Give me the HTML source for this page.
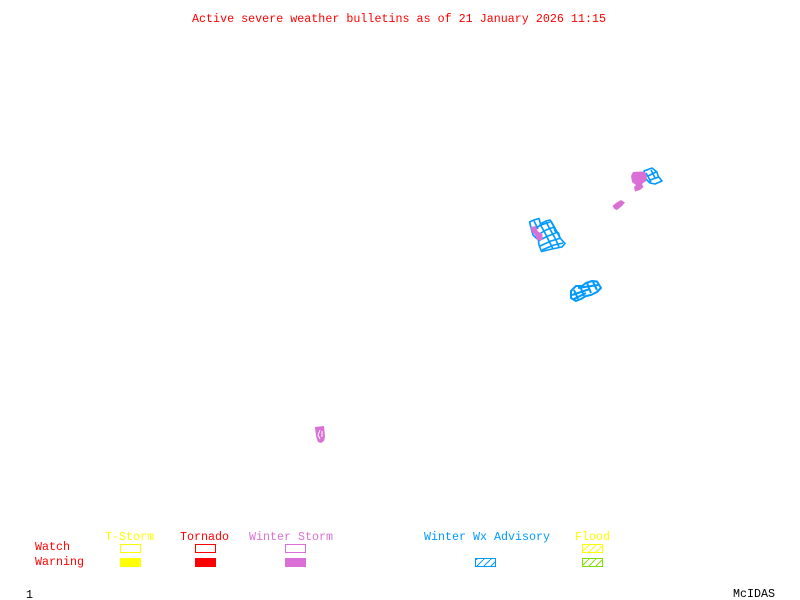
<!DOCTYPE html>
<html>
<head>
<meta charset="utf-8">
<style>
html,body{margin:0;padding:0;background:#fff;width:800px;height:600px;overflow:hidden}
svg{display:block}
text{font-family:"Liberation Mono",monospace;font-size:11.67px}
</style>
</head>
<body>
<svg width="800" height="600" viewBox="0 0 800 600" xmlns="http://www.w3.org/2000/svg">
<defs>
<pattern id="hb" width="7" height="7" patternUnits="userSpaceOnUse"><path d="M0 7L7 0" stroke="#0099ff" stroke-width="1"/></pattern>
<pattern id="hy" width="7" height="7" patternUnits="userSpaceOnUse"><path d="M0 7L7 0" stroke="#ffff00" stroke-width="1"/></pattern>
<pattern id="hg" width="7" height="7" patternUnits="userSpaceOnUse"><path d="M0 7L7 0" stroke="#7fdf00" stroke-width="1"/></pattern>
</defs>
<rect width="800" height="600" fill="#fff"/>

<text x="192" y="22" fill="#ff0000" textLength="414" lengthAdjust="spacing">Active severe weather bulletins as of 21 January 2026 11:15</text>

<!-- Region A -->
<g fill="none" stroke="#0099ff" stroke-width="1.6" stroke-linejoin="round">
<path d="M529.5 222L534 220L539 218.500L540.500 224L546 221L550 220L553.500 226L555 231L558.500 233L560 238L565 243.500L562 247L552 249L541.500 251.500L539 245L538.500 240L533 235Z"/>
<path d="M534 221L538 229M540 224L545 233L549 241L553 249M546 222L551 231L556 240L559 247M551 221L556 230L560 238"/>
<path d="M532 230L541 225L550 222M536 236L546 230L554 227M538 241L548 236L558 232M540 246L551 241L561 238M542 250L554 245L563 243"/>
</g>
<path d="M530.500 227L536 226L537.500 231L542.500 234.500L542.500 240L537.500 240.500L535 235L532 232Z" fill="#da70d6"/>

<!-- Region B top right -->
<g fill="none" stroke="#0099ff" stroke-width="1.6" stroke-linejoin="round">
<path d="M644 171L652 168L657 172L658 176L662 181L655 184L650 183L646 179Z"/>
<path d="M648 176L656 172M650 180L659 177M651 170L655 178M646 173L651 182"/>
</g>
<path d="M633 172L642 171.500L645 172L647 176L646 181L642 184L643.500 187L640 190L635 191.500L634 187L636 185L632 182L631 176Z" fill="#da70d6"/>
<path d="M612.500 206L616 203L621 200L625 202.500L622 206L617 210L614.500 209Z" fill="#da70d6"/>

<!-- Region C -->
<g fill="none" stroke="#0099ff" stroke-width="2" stroke-linejoin="round">
<path d="M571 291L576 286L582 286L586 283L592 281L597 281.500L601 288L597 292L591 295L586 296L581 299L576 301L571 298Z"/>
<path d="M574 290L578 299M580 286L584 296M587 283L591 293M593 282L597 290M572 295L590 289M578 288L598 285M574 299L586 293"/>
</g>

<!-- Region D -->
<path d="M315 427L324 426L325 437L324 441L321 443L318 442L316 436Z" fill="#da70d6"/>
<path d="M320 430L318 435L320 439M322 431L322 437" fill="none" stroke="#fff" stroke-width="1"/>

<!-- Legend -->
<text x="105" y="540" fill="#ffff00" textLength="49">T-Storm</text>
<text x="180" y="540" fill="#ff0000" textLength="49">Tornado</text>
<text x="249" y="540" fill="#da70d6" textLength="84">Winter Storm</text>
<text x="424" y="540" fill="#0099ff" textLength="126">Winter Wx Advisory</text>
<text x="575" y="540" fill="#ffff00" textLength="35">Flood</text>
<text x="35" y="550" fill="#ff0000" textLength="35">Watch</text>
<text x="35" y="565" fill="#ff0000" textLength="49">Warning</text>

<g shape-rendering="crispEdges" stroke-width="1">
<rect x="120.500" y="544.500" width="20" height="8" fill="none" stroke="#ffff00"/>
<rect x="120" y="558" width="21" height="9" fill="#ffff00"/>
<rect x="195.500" y="544.500" width="20" height="8" fill="none" stroke="#ff0000"/>
<rect x="195" y="558" width="21" height="9" fill="#ff0000"/>
<rect x="285.500" y="544.500" width="20" height="8" fill="none" stroke="#da70d6"/>
<rect x="285" y="558" width="21" height="9" fill="#da70d6"/>
<rect x="475.500" y="558.500" width="20" height="8" fill="url(#hb)" stroke="#0099ff"/>
<rect x="582.500" y="544.500" width="20" height="8" fill="url(#hy)" stroke="#ffff00"/>
<rect x="582.500" y="558.500" width="20" height="8" fill="url(#hg)" stroke="#7fdf00"/>
</g>

<text x="26" y="598" fill="#000">1</text>
<text x="733" y="597" fill="#000" textLength="42">McIDAS</text>
</svg>
</body>
</html>
